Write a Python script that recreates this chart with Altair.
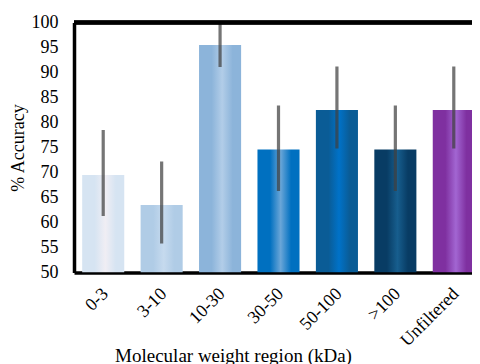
import altair as alt
import pandas as pd

categories = ["0-3", "3-10", "10-30", "30-50", "50-100", ">100", "Unfiltered"]
accuracy = [69.5, 63.5, 95.5, 74.6, 82.5, 74.6, 82.5]
err_low = [61.3, 55.8, 91.1, 66.3, 74.8, 66.3, 74.8]
err_high = [78.5, 72.2, 100.0, 83.4, 91.2, 83.4, 91.2]

edge_colors = ["#d6e4f2", "#b0cce6", "#8cb4da", "#0070c0", "#0a5c96", "#083c64", "#7f30a0"]
center_colors = ["#f0eef4", "#c6daee", "#b2cde8", "#6aa6d8", "#0072c8", "#175e8e", "#a266d2"]

df = pd.DataFrame({
    "cat": categories,
    "acc": accuracy,
    "lo": err_low,
    "hi": err_high,
})

FONT = "Liberation Serif"

x_axis = alt.Axis(
    title="Molecular weight region (kDa)",
    labelAngle=-45,
    ticks=False,
    domain=True,
    domainColor="black",
    domainWidth=3.5,
    labelPadding=12,
    labelOffset=-4,
    titleFontSize=19,
    titleX=159,
    titleY=89,
    titleAlign="center",
    titleBaseline="alphabetic",
)
x_enc = alt.X(
    "cat:N",
    sort=categories,
    scale=alt.Scale(range=[0, 409], paddingInner=0.28, paddingOuter=0.14),
    axis=x_axis,
)
y_scale = alt.Scale(domain=[50, 100], zero=False, nice=False)
y_axis = alt.Axis(
    title="% Accuracy",
    values=list(range(50, 101, 5)),
    ticks=False,
    domain=True,
    domainColor="black",
    domainWidth=3.5,
    grid=False,
    labelOverlap=False,
    labelPadding=16,
    titleX=-56,
    titleY=125,
    titleAlign="center",
    titleBaseline="middle",
)

layers = []
for i, cat in enumerate(categories):
    grad = alt.Gradient(
        gradient="linear",
        x1=0, x2=1, y1=0, y2=0,
        stops=[
            alt.GradientStop(offset=0, color=edge_colors[i]),
            alt.GradientStop(offset=0.3, color=edge_colors[i]),
            alt.GradientStop(offset=0.55, color=center_colors[i]),
            alt.GradientStop(offset=0.8, color=edge_colors[i]),
            alt.GradientStop(offset=1, color=edge_colors[i]),
        ],
    )
    layers.append(
        alt.Chart(df)
        .transform_filter(alt.datum.cat == cat)
        .mark_bar(color=grad, clip=True)
        .encode(x=x_enc, y=alt.Y("acc:Q", scale=y_scale, axis=y_axis), y2=alt.datum(50))
    )

errors = (
    alt.Chart(df)
    .mark_rule(color="#404040", opacity=0.72, strokeWidth=3.2, clip=True)
    .encode(x=x_enc, y=alt.Y("lo:Q", scale=y_scale, axis=y_axis), y2="hi:Q")
)

top_border = (
    alt.Chart(df)
    .mark_rule(color="black", strokeWidth=3.5)
    .encode(y=alt.datum(100, scale=y_scale, axis=y_axis))
)

chart = (
    alt.layer(*layers, errors, top_border)
    .properties(
        width=398,
        height=250,
        autosize=alt.AutoSizeParams(type="none"),
        padding={"left": 66, "top": 14.5, "right": 0, "bottom": 91.5},
    )
    .configure_view(stroke=None)
    .configure_axis(
        labelFont=FONT,
        titleFont=FONT,
        labelFontSize=18,
        titleFontSize=18,
        labelColor="black",
        titleColor="black",
        titleFontWeight="normal",
        grid=False,
    )
    .configure_axisY(labelOverlap=False)
)

chart.save("out.html", embed_options={"renderer": "svg", "actions": False})
